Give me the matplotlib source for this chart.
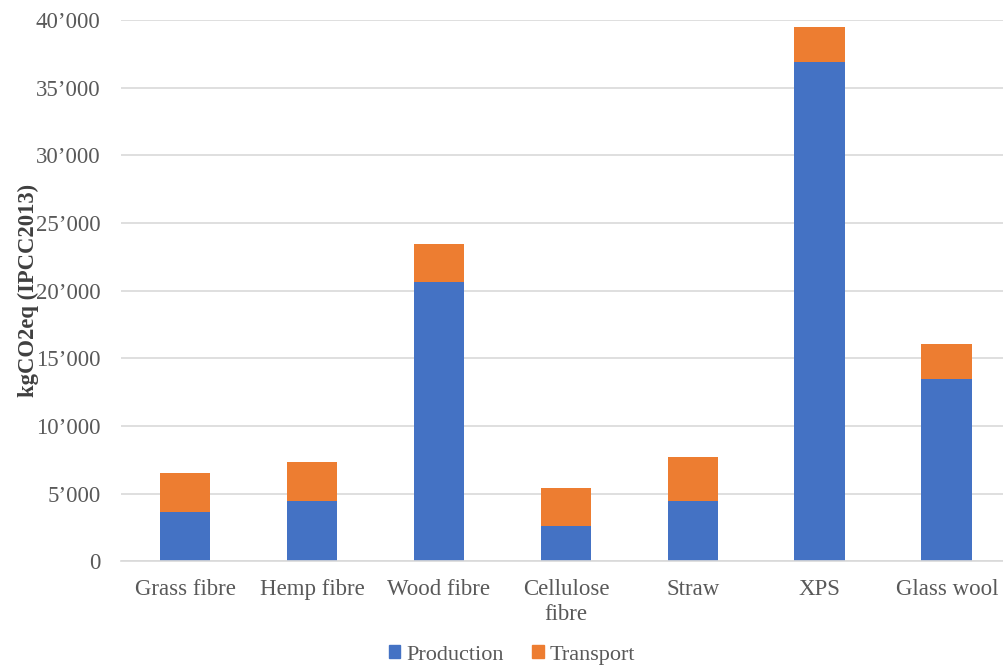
import matplotlib
matplotlib.use("Agg")
import matplotlib.pyplot as plt
from matplotlib.ticker import FuncFormatter, MultipleLocator
from matplotlib.patches import Patch

categories = ["Grass fibre", "Hemp fibre", "Wood fibre", "Cellulose\nfibre",
              "Straw", "XPS", "Glass wool"]
production = [3630, 4450, 20650, 2620, 4450, 36910, 13460]
transport = [2880, 2860, 2780, 2790, 3250, 2540, 2640]
series_names = ["Production", "Transport"]
ylabel = "kgCO2eq (IPCC2013)"

blue = "#4472C4"
orange = "#ED7D31"
grid_gray = "#D9D9D9"
text_gray = "#595959"

plt.rcParams["font.family"] = ["Liberation Serif", "DejaVu Serif"]

fig = plt.figure(figsize=(10.04, 6.66), dpi=100)
ax = fig.add_axes([0.121, 0.157, 0.879, 0.813])

x = list(range(len(categories)))
ax.bar(x, production, width=0.4, color=blue, zorder=3)
ax.bar(x, transport, width=0.4, bottom=production, color=orange, zorder=3)

ax.set_ylim(0, 40000)
ax.set_xlim(-0.5, 6.45)
ax.yaxis.set_major_locator(MultipleLocator(5000))
ax.yaxis.set_major_formatter(
    FuncFormatter(lambda v, p: "0" if v == 0 else f"{int(v):,}".replace(",", "\u2019")))
ax.grid(axis="y", color=grid_gray, linewidth=1.2, zorder=0)

for side in ["top", "right", "left"]:
    ax.spines[side].set_visible(False)
ax.spines["bottom"].set_color(grid_gray)
ax.spines["bottom"].set_linewidth(1.2)
ax.spines["bottom"].set_zorder(4)

ax.set_xticks(x)
ax.set_xticklabels(categories, linespacing=1.2)
ax.tick_params(axis="both", length=0, labelsize=16.5, labelcolor=text_gray)
ax.tick_params(axis="y", pad=15)
ax.tick_params(axis="x", pad=13)

ax.set_ylabel(ylabel, fontsize=16.3, fontweight="bold", color="#3F3F3F")
ax.yaxis.set_label_coords(-0.094, 0.5)

handles = [Patch(color=blue), Patch(color=orange)]
fig.legend(handles, series_names, loc="lower center", ncol=2,
           bbox_to_anchor=(0.51, -0.028), frameon=False, fontsize=16,
           handlelength=0.5, handleheight=0.5, handletextpad=0.27,
           columnspacing=1.3, labelcolor=text_gray)

fig.savefig("out.png", dpi=100)
